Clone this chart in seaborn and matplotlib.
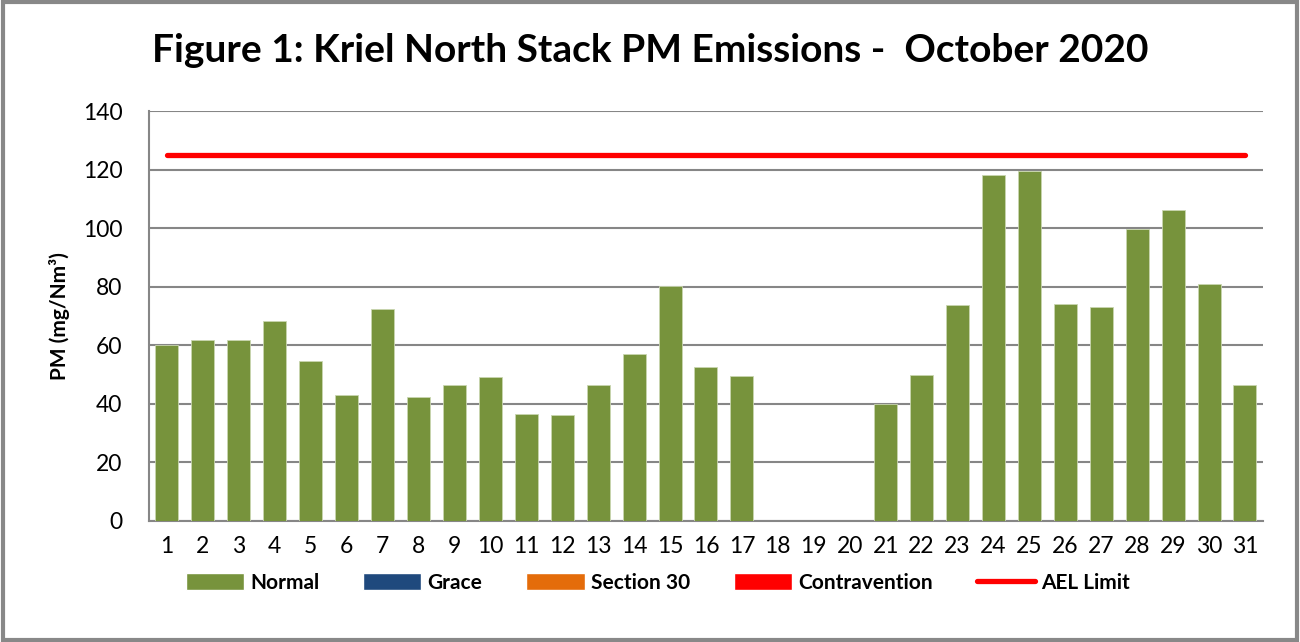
import numpy as np
import pandas as pd
import matplotlib
matplotlib.use("Agg")
import matplotlib.pyplot as plt
import seaborn as sns
from matplotlib.patches import Patch, Rectangle
from matplotlib.lines import Line2D

# --------------------------------------------------------
# Data
# --------------------------------------------------------
days = [str(d) for d in range(1, 32)]
pm_normal = [60.0, 61.8, 61.7, 68.4, 54.6, 43.1, 72.3, 42.2, 46.4, 49.1,
             36.5, 36.2, 46.5, 57.0, 80.2, 52.6, 49.6, np.nan, np.nan, np.nan,
             40.0, 49.9, 73.8, 118.0, 119.5, 74.2, 73.1, 99.7, 106.3, 80.9,
             46.5]
ael_limit = [125] * len(days)
legend_labels = ["Normal", "Grace", "Section 30", "Contravention", "AEL Limit"]
legend_colors = ["#77933C", "#1F497D", "#E46C0A", "#FF0000", "#FF0000"]

df = pd.DataFrame({"day": days, "pm": pm_normal})

sns.set_theme(style="white")
plt.rcParams["font.family"] = ["Lato", "DejaVu Sans"]
plt.rcParams["text.color"] = "black"

fig = plt.figure(figsize=(13, 6.42), dpi=100)
ax = fig.add_axes([0.1146, 0.1885, 0.8569, 0.6386])

sns.barplot(data=df, x="day", y="pm", order=days, color=legend_colors[0],
            saturation=1, width=0.64, edgecolor="#C9D6B0", linewidth=0.6,
            ax=ax, zorder=3)

ax.plot(range(len(days)), ael_limit, color=legend_colors[4], lw=3.8,
        solid_capstyle="round", zorder=4)

ax.set_ylim(0, 140)
ax.set_yticks(range(0, 141, 20))
ax.set_xlim(-0.5, len(days) - 0.5)
ax.yaxis.grid(True, color="#868686", lw=1.5, zorder=0)
ax.set_axisbelow(True)
for side in ["top", "right"]:
    ax.spines[side].set_visible(False)
for side in ["left", "bottom"]:
    ax.spines[side].set_color("#868686")
    ax.spines[side].set_linewidth(1.5)
ax.tick_params(axis="both", labelsize=16.5, labelcolor="black", length=0)
ax.tick_params(axis="y", pad=19)
ax.tick_params(axis="x", pad=11)
ax.set_xlabel("")
ax.set_ylabel("PM (mg/Nm³)", fontsize=15, fontweight="bold", color="black",
              labelpad=9)

fig.suptitle("Figure 1: Kriel North Stack PM Emissions -  October 2020",
             x=0.5, y=0.948, fontsize=28, fontweight="bold", color="black")

handles = [Patch(facecolor=c) for c in legend_colors[:4]]
handles.append(Line2D([0], [0], color=legend_colors[4], lw=3.8,
                      solid_capstyle="round"))
leg = fig.legend(handles, legend_labels, loc="center", ncol=5,
                 bbox_to_anchor=(0.506, 0.092), frameon=False,
                 prop={"weight": "bold", "size": 15},
                 handlelength=2.8, handleheight=0.9, handletextpad=0.3,
                 columnspacing=2.1)

# grey border around the chart area
fig.patches.append(Rectangle((0.002, 0.003), 0.996, 0.994, transform=fig.transFigure,
                             fill=False, edgecolor="#888888", lw=3))

fig.savefig("out.png", dpi=100)
